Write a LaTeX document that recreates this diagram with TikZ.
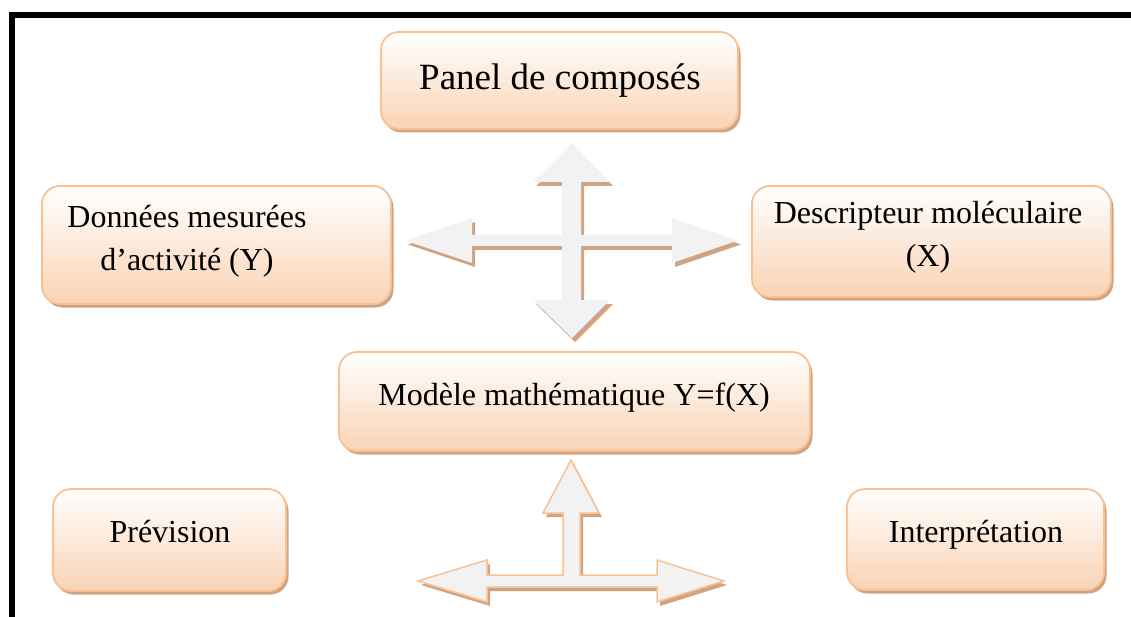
\documentclass[tikz,border=0pt]{standalone}
\usepackage{fontspec}
\setmainfont{Liberation Serif}
\usetikzlibrary{shadows}
\definecolor{peachline}{RGB}{250,192,144}
\definecolor{peachfill}{RGB}{250,211,180}
\definecolor{shadowc}{RGB}{208,164,130}
\definecolor{arrowfill}{RGB}{242,242,242}
\tikzset{
 box/.style={draw=peachline, line width=1.8pt, rounded corners=18pt, top color=white, bottom color=peachfill,
   drop shadow={shadow xshift=2.5pt, shadow yshift=-3.5pt, fill=shadowc, opacity=1}, inner sep=0pt},
 lbl/.style={font=\fontsize{32}{43}\selectfont, inner sep=0pt, align=center},
 biglbl/.style={font=\fontsize{37}{44}\selectfont, inner sep=0pt},
 arrshadow/.style={fill=shadowc},
 arrbody/.style={fill=arrowfill},
}
\def\crosspts{(572,143) -- (610,182) -- (581,182) -- (581,235) -- (672,235) -- (672,218) -- (738,240.5) -- (672,263) -- (672,246) -- (581,246) -- (581,300) -- (610,300) -- (572,338) -- (533,300) -- (562,300) -- (562,246) -- (472,246) -- (472,263) -- (405,240.5) -- (472,218) -- (472,235) -- (562,235) -- (562,182) -- (533,182) -- cycle}
\def\tpts{(571,460) -- (599,513) -- (580,513) -- (580,575) -- (657,575) -- (657,560) -- (724,581) -- (657,602) -- (657,587) -- (487,587) -- (487,602) -- (418,581) -- (487,560) -- (487,575) -- (563,575) -- (563,513) -- (543,513) -- cycle}
\begin{document}
\begin{tikzpicture}[x=1pt,y=-1pt]
\useasboundingbox (0,0) rectangle (1131,617);
% page border
\fill[black] (9,12) rectangle (1131,18);
\fill[black] (9,12) rectangle (15,617);
% cross arrow
\begin{scope}[shift={(3,4)}]
\fill[arrshadow] \crosspts;
\end{scope}
\fill[arrbody] \crosspts;
% T arrow
\begin{scope}[shift={(3,4)}]
\fill[arrshadow] \tpts;
\end{scope}
\filldraw[arrbody, draw=peachline, line width=1.5pt, line join=miter] \tpts;
% boxes
\node[box, minimum width=357pt, minimum height=97pt] (panel) at (559.5,80.5) {};
\node[box, minimum width=349pt, minimum height=118pt] (donnees) at (216.5,245) {};
\node[box, minimum width=359pt, minimum height=111pt] (descripteur) at (931.5,241.5) {};
\node[box, minimum width=471pt, minimum height=99pt] (modele) at (574.5,401.5) {};
\node[box, minimum width=233pt, minimum height=102pt] (prevision) at (169.5,540) {};
\node[box, minimum width=257pt, minimum height=101pt] (interpretation) at (975.5,539.5) {};
% labels
\node[biglbl, anchor=base] (panelt) at (560,90) {Panel de composés};
\node[lbl] (donneest) at (187,241) {Données mesurées\\d’activité (Y)};
\node[lbl] (descripteurt) at (928,237) {Descripteur moléculaire\\(X)};
\node[lbl, anchor=base] (modelet) at (574,405) {Modèle mathématique Y=f(X)};
\node[lbl, anchor=base] (previsiont) at (170,542) {Prévision};
\node[lbl, anchor=base] (interpretationt) at (976,542) {Interprétation};
\end{tikzpicture}
\end{document}
